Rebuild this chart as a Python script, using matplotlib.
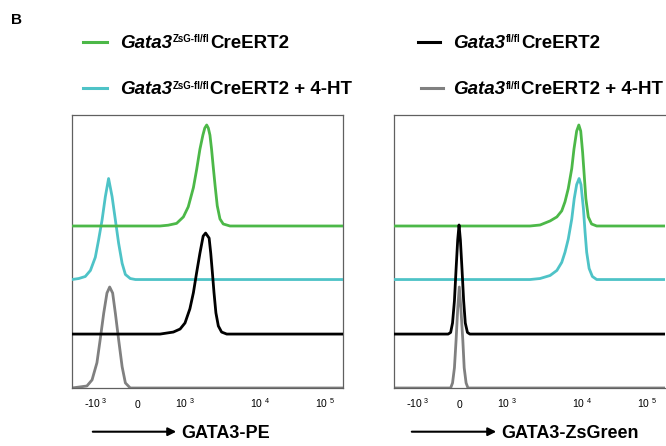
import matplotlib
matplotlib.use('Agg')
import matplotlib.pyplot as plt
from matplotlib.lines import Line2D
from matplotlib.patches import FancyArrowPatch

plt.rcParams['font.family'] = ['Liberation Sans', 'DejaVu Sans']

# x axis positions (percent of channel scale) and labels
tick_pos = [8.9, 24.3, 41.6, 69.2, 93.2]
tick_labels = [r'$\mathregular{\text{-}10^{\ 3}}$', r'$\mathregular{0}$', r'$\mathregular{10^{\ 3}}$',
               r'$\mathregular{10^{\ 4}}$', r'$\mathregular{10^{\ 5}}$']

# baseline offsets of the stacked histograms (units: % of mode)
offset_green = 160.4
offset_cyan = 107.4
offset_black = 53.4
offset_gray = 0

# GATA3-PE panel
pe_green_x = [0, 32.5, 35.5, 38.6, 41.1, 42.9, 44.8, 46.0, 47.2, 48.3, 49.0, 49.7, 50.3, 50.9, 51.5, 52.1, 52.8, 53.6, 54.6, 55.8, 58.3, 100]
pe_green_y = [0, 0, 0.8, 2.6, 9, 19, 38, 56, 76, 90, 97, 100, 97, 90, 76, 59, 40, 20, 7, 2, 0, 0]
pe_cyan_x = [0, 2.5, 4.9, 6.8, 8.6, 9.8, 11.1, 12.3, 13.5, 14.8, 16.0, 17.2, 18.5, 19.7, 21.5, 23.4, 100]
pe_cyan_y = [0, 1, 3, 9, 22, 39, 59, 82, 100, 82, 59, 36, 16, 5, 1, 0, 0]
pe_black_x = [0, 32.5, 37.4, 39.9, 41.7, 43.5, 44.8, 46.0, 47.2, 48.4, 49.3, 50.6, 51.2, 51.8, 52.4, 53.1, 54.0, 55.2, 57.1, 100]
pe_black_y = [0, 0, 2, 5, 11, 25, 41, 61, 80, 97, 100, 95, 80, 61, 41, 21, 8, 2, 0, 0]
pe_gray_x = [0, 5.5, 7.4, 9.2, 10.4, 11.7, 12.9, 13.9, 15.0, 16.0, 17.2, 18.5, 19.7, 21.5, 100]
pe_gray_y = [0, 2, 8, 25, 48, 74, 94, 100, 94, 74, 48, 21, 5, 0, 0]

# GATA3-ZsGreen panel
zs_green_x = [0, 50.2, 53.9, 57.6, 60.1, 61.9, 63.1, 64.3, 65.6, 66.4, 67.4, 68.2, 68.9, 69.6, 70.2, 70.8, 71.7, 72.9, 74.8, 100]
zs_green_y = [0, 0, 1, 5, 9, 15, 24, 37, 57, 76, 94, 100, 94, 73, 50, 27, 9, 2, 0, 0]
zs_cyan_x = [0, 50.2, 53.9, 57.6, 60.1, 61.9, 63.1, 64.3, 65.6, 66.5, 67.4, 68.3, 69.0, 69.9, 70.5, 71.1, 72.0, 73.2, 74.8, 100]
zs_cyan_y = [0, 0, 1, 4, 9, 17, 27, 40, 60, 80, 94, 100, 94, 70, 47, 27, 11, 3, 0, 0]
zs_black_x = [0, 20.0, 20.9, 21.6, 22.3, 22.9, 23.5, 24.0, 24.5, 25.1, 25.7, 26.3, 27.1, 28.0, 100]
zs_black_y = [0, 0, 1.6, 11, 33, 64, 93, 108, 93, 64, 33, 11, 1.6, 0, 0]
zs_gray_x = [0, 20.9, 21.6, 22.3, 22.9, 23.5, 24.1, 24.7, 25.4, 25.9, 26.6, 27.3, 100]
zs_gray_y = [0, 0, 5, 20, 47, 78, 100, 78, 47, 20, 5, 0, 0]

green = '#4cb848'
cyan = '#4ec3c7'
black = '#000000'
gray = '#808080'

W, H = 666, 446
fig = plt.figure(figsize=(W / 100, H / 100), dpi=100)


def setup_axis(ax):
    ax.set_xlim(0, 100)
    ax.set_ylim(0, 270.3)
    ax.set_yticks([])
    ax.set_xticks(tick_pos)
    ax.set_xticklabels(tick_labels)
    ax.tick_params(axis='x', length=0, pad=14.5, labelsize=7.5)
    for lab in ax.get_xticklabels():
        lab.set_va('baseline')
    for s in ax.spines.values():
        s.set_color('#606060')
        s.set_linewidth(0.9)


def draw_curves(ax, curves):
    for xs, ys, off, col, z in curves:
        ax.plot(xs, [v + off for v in ys], color=col, lw=2.0, zorder=z,
                solid_joinstyle='round', antialiased=True)


ax1 = fig.add_axes([72 / W, 1 - 388 / H, 271 / W, 273 / H])
setup_axis(ax1)
draw_curves(ax1, [
    (pe_gray_x, pe_gray_y, offset_gray, gray, 2),
    (pe_cyan_x, pe_cyan_y, offset_cyan, cyan, 3),
    (pe_green_x, pe_green_y, offset_green, green, 4),
    (pe_black_x, pe_black_y, offset_black, black, 5),
])

ax2 = fig.add_axes([394 / W, 1 - 388 / H, 271 / W, 273 / H])
setup_axis(ax2)
ax2.spines['right'].set_visible(False)
draw_curves(ax2, [
    (zs_gray_x, zs_gray_y, offset_gray, gray, 2),
    (zs_cyan_x, zs_cyan_y, offset_cyan, cyan, 3),
    (zs_green_x, zs_green_y, offset_green, green, 4),
    (zs_black_x, zs_black_y, offset_black, black, 5),
])

# panel letter
fig.text(11 / W, 1 - 24 / H, 'B', fontsize=11, fontweight='bold', va='baseline')

renderer = fig.canvas.get_renderer()


def legend_entry(x0, x1, xt, yl, color, sup, rest):
    fig.add_artist(Line2D([x0 / W, x1 / W], [1 - yl / H, 1 - yl / H], color=color, lw=2.2))
    yb = 1 - (yl + 6.2) / H
    t = fig.text(xt / W, yb, 'Gata3', fontsize=13.5, fontweight='bold', style='italic', va='baseline')
    xe = t.get_window_extent(renderer).x1 + 1
    t2 = fig.text(xe / W, 1 - (yl + 0.8) / H, sup, fontsize=7, fontweight='bold', va='baseline')
    xe = t2.get_window_extent(renderer).x1 + 0.5
    fig.text(xe / W, yb, rest, fontsize=13.5, fontweight='bold', va='baseline')


legend_entry(83, 107, 120, 41.7, green, 'ZsG-fl/fl', 'CreERT2')
legend_entry(83, 107, 120, 88, cyan, 'ZsG-fl/fl', 'CreERT2 + 4-HT')
legend_entry(418, 440, 453, 41.7, black, 'fl/fl', 'CreERT2')
legend_entry(421, 443, 453, 88, gray, 'fl/fl', 'CreERT2 + 4-HT')


def axis_title(xa, xb, xt, text):
    y = 1 - 431.7 / H
    fig.add_artist(FancyArrowPatch((xa / W, y), (xb / W, y), transform=fig.transFigure,
                                   arrowstyle='-|>', mutation_scale=12, lw=1.5, color='black'))
    fig.text(xt / W, 1 - 438.2 / H, text, fontsize=13, fontweight='bold', va='baseline')


axis_title(90, 179, 181, 'GATA3-PE')
axis_title(409, 499, 501, 'GATA3-ZsGreen')

fig.savefig('out.png', dpi=100)
